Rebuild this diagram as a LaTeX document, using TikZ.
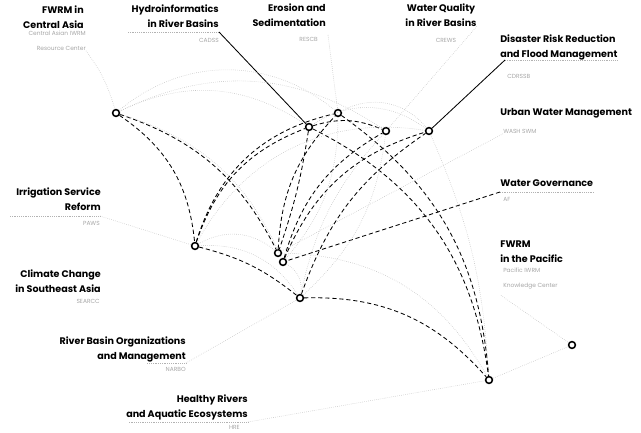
\documentclass[tikz,border=0pt]{standalone}
\usepackage{fontspec}
\setmainfont{Poppins}
\tikzset{
  hub/.style={circle, draw, line width=1.1pt, fill=white, inner sep=0pt, minimum size=0.17cm},
  topic/.style={font=\fontsize{6.8}{10}\selectfont\bfseries, inner sep=0pt},
  sub/.style={font=\fontsize{4.2}{10.5}\selectfont, text=gray!70, inner sep=0pt},
  tie/.style={densely dashed, line width=0.6pt, black},
  faint/.style={densely dotted, line width=0.4pt, gray!50},
  rule/.style={densely dotted, line width=0.3pt, gray!60},
}
\begin{document}
\begin{tikzpicture}[x=0.025cm, y=-0.025cm]
  \useasboundingbox (0,0) rectangle (641,433);

  % labels
  \node[topic, anchor=north east, align=right] (lcentral) at (84,6) {FWRM in\\Central Asia};
  \node[sub, anchor=north east, align=right] (scentral) at (86,31) {Central Asian IWRM\\Resource Center};
  \node[topic, anchor=north east, align=right] (lhydro) at (219,5) {Hydroinformatics\\in River Basins};
  \node[sub, anchor=north east] (shydro) at (219,38) {CADSS};
  \node[topic, anchor=north east, align=right] (lerosion) at (326,4) {Erosion and\\Sedimentation};
  \node[sub, anchor=north east] (serosion) at (318,37) {RESCB};
  \node[topic, anchor=north, align=center] (lquality) at (441,4) {Water Quality\\in River Basins};
  \node[sub, anchor=north] (squality) at (446,38) {CREWS};
  \node[topic, anchor=north west, align=left] (ldisaster) at (500,35) {Disaster Risk Reduction\\and Flood Management};
  \node[sub, anchor=north west] (sdisaster) at (507,74) {CDRSSB};
  \node[topic, anchor=north west] (lurban) at (500,108) {Urban Water Management};
  \node[sub, anchor=north west] (surban) at (503,129) {WASH SWM};
  \node[topic, anchor=north west] (lgov) at (500,179) {Water Governance};
  \node[sub, anchor=north west] (sgov) at (503,197) {AF};
  \node[topic, anchor=north west, align=left] (lpacific) at (500,241) {FWRM\\in the Pacific};
  \node[sub, anchor=north west, align=left] (spacific) at (503,268) {Pacific IWRM\\Knowledge Center};
  \node[topic, anchor=north east, align=right] (lirrig) at (101,188) {Irrigation Service\\Reform};
  \node[sub, anchor=north east] (sirrig) at (100,221) {PAWS};
  \node[topic, anchor=north east, align=right] (lclimate) at (101,270) {Climate Change\\in Southeast Asia};
  \node[sub, anchor=north east] (sclimate) at (100,299) {SEARCC};
  \node[topic, anchor=north east, align=right] (lbasin) at (186,337) {River Basin Organizations\\and Management};
  \node[sub, anchor=north east] (sbasin) at (186,367) {NARBO};
  \node[topic, anchor=north east, align=right] (lhealthy) at (248,395) {Healthy Rivers\\and Aquatic Ecosystems};
  \node[sub, anchor=north east] (shealthy) at (240,425) {HRE};

  % rules under some labels
  \coordinate (h1) at (128,32);
  \coordinate (d1) at (505,60);
  \coordinate (g1) at (500,192);
  \coordinate (i1) at (100,216);
  \coordinate (b1) at (186,363);
  \coordinate (e1) at (248,422);
  \draw[rule] (h1) -- (h1 -| lhydro.east);
  \draw[rule] (d1) -- (d1 -| ldisaster.east);
  \draw[rule] (g1) -- (g1 -| lgov.east);
  \draw[rule] (i1) -- ++(-90,0);
  \draw[rule] (b1) -- ++(-40,0);
  \draw[rule] (e1) -- ++(-120,0);

  % hubs
  \node[hub] (central) at (116,113) {};
  \node[hub] (hydro) at (309,127) {};
  \node[hub] (erosion) at (338,113) {};
  \node[hub] (quality) at (386,131) {};
  \node[hub] (disaster) at (429,131) {};
  \node[hub] (irrig) at (195,246) {};
  \node[hub] (urban) at (278,253) {};
  \node[hub] (gov) at (283,262) {};
  \node[hub] (basin) at (300,298) {};
  \node[hub] (healthy) at (489,380) {};
  \node[hub] (pacific) at (572,345) {};

  % leaders
  \draw[faint] (scentral.south east) to[bend left=10] (central);
  \draw[line width=0.6pt] (h1 -| lhydro.east) -- (hydro);
  \draw[faint] (serosion.north east) ++(10,-2) -- (erosion);
  \draw[faint] (lquality.south east) -- (quality);
  \draw[line width=0.6pt] (d1) -- (disaster);
  \draw[faint] (surban.south west) -- (urban);
  \draw[tie] (g1) -- (gov);
  \draw[faint] (spacific.south west) ++(-2,6) -- (pacific);
  \draw[faint] (pacific) -- (healthy);
  \draw[faint] (i1) -- (irrig);
  \draw[faint] (b1) -- (basin);
  \draw[faint] (e1) -- (healthy);

  % strong links
  \draw[tie] (central) to[bend left=25] (irrig);
  \draw[tie] (central) to[bend left=22] (urban);
  \draw[tie] (irrig) to[bend left=30] (erosion);
  \draw[tie] (irrig) to[bend left=25] (hydro);
  \draw[tie] (hydro) to[bend left=5] (urban);
  \draw[tie] (hydro) to[bend left=28] (healthy);
  \draw[tie] (erosion) to[bend left=25] (healthy);
  \draw[tie] (basin) to[bend left=25] (healthy);
  \draw[tie] (urban) to[bend left=20] (erosion);
  \draw[tie] (gov) to[bend left=25] (disaster);
  \draw[tie] (gov) to[bend left=22] (quality);
  \draw[tie] (basin) to[bend left=18] (disaster);
  \draw[tie] (irrig) to[bend left=12] (basin);
  \draw[tie] (hydro) to[bend left=20] (quality);

  % faint links
  \draw[faint] (central) to[bend left=40] (erosion);
  \draw[faint] (central) to[bend left=30] (hydro);
  \draw[faint] (central) to[bend left=30] (quality);
  \draw[faint] (central) to[bend left=25] (gov);
  \draw[faint] (irrig) to[bend left=35] (urban);
  \draw[faint] (irrig) to[bend left=30] (basin);
  \draw[faint] (irrig) to[bend left=35] (disaster);
  \draw[faint] (erosion) to[bend left=40] (disaster);
  \draw[faint] (hydro) to[bend left=35] (disaster);
  \draw[faint] (erosion) to[bend left=20] (gov);
  \draw[faint] (quality) to[bend left=20] (basin);
  \draw[faint] (urban) to[bend left=30] (healthy);
  \draw[faint] (disaster) to[bend left=10] (healthy);
  \draw[faint] (basin) to[bend left=15] (quality);
  \draw[faint] (gov) to[bend left=35] (basin);
\end{tikzpicture}
\end{document}
